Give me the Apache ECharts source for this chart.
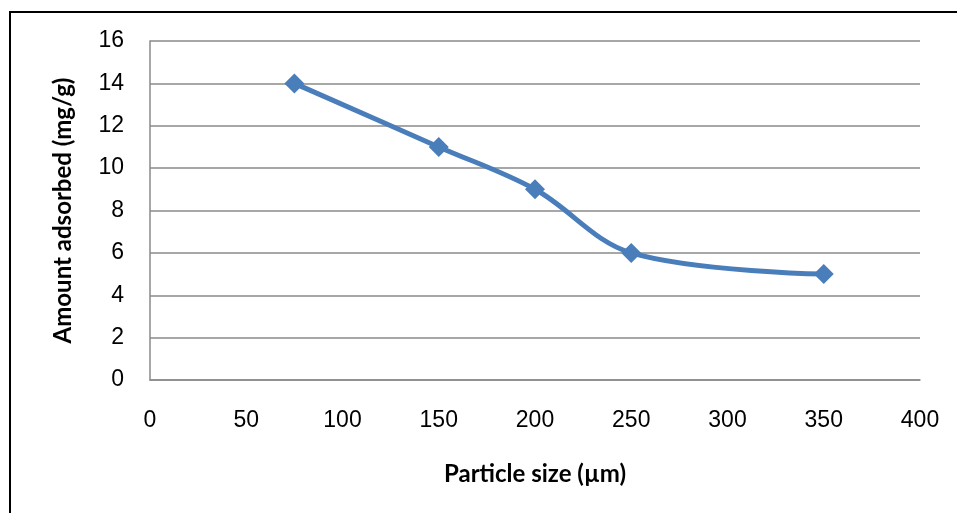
<!DOCTYPE html>
<html><head><meta charset="utf-8">
<script src="https://cdn.jsdelivr.net/npm/echarts@6/dist/echarts.min.js"></script>
<style>html,body{margin:0;padding:0;background:#fff}#c{width:957px;height:513px}</style>
</head><body><div id="c"></div>
<script>
const particleSize = [75, 150, 200, 250, 350];
const amountAdsorbed = [14, 11, 9, 6, 5];
const xTitle = 'Particle size (µm)';
const yTitle = 'Amount adsorbed (mg/g)';

const chart = echarts.init(document.getElementById('c'), null, {renderer: 'canvas'});
chart.setOption({
  backgroundColor: '#fff',
  animation: false,
  graphic: [{
    type: 'rect', shape: {x: 10, y: 12, width: 960, height: 520},
    style: {fill: 'none', stroke: '#000', lineWidth: 2}, silent: true, z: -1
  }],
  grid: {left: 150, right: 37, top: 41, bottom: 133},
  xAxis: {
    type: 'value', min: 0, max: 400, interval: 50,
    name: xTitle, nameLocation: 'middle', nameGap: 82,
    nameTextStyle: {fontFamily: 'Lato', fontWeight: 'bold', fontSize: 24, color: '#000'},
    axisLine: {show: true, lineStyle: {color: '#8a8a8a', width: 1.5}},
    axisTick: {show: false},
    splitLine: {show: false},
    axisLabel: {fontFamily: 'Liberation Sans', fontSize: 23, color: '#000', margin: 29}
  },
  yAxis: {
    type: 'value', min: 0, max: 16, interval: 2,
    name: yTitle, nameLocation: 'middle', nameGap: 75, nameRotate: 90,
    nameTextStyle: {fontFamily: 'Lato', fontWeight: 'bold', fontSize: 24, color: '#000'},
    axisLine: {show: true, lineStyle: {color: '#8a8a8a', width: 1.5}},
    axisTick: {show: false},
    splitLine: {show: true, lineStyle: {color: '#8a8a8a', width: 1.5}},
    axisLabel: {fontFamily: 'Liberation Sans', fontSize: 23, color: '#000', margin: 26}
  },
  series: [{
    type: 'line',
    data: particleSize.map((x, i) => [x, amountAdsorbed[i]]),
    smooth: 0.35,
    symbol: 'diamond', symbolSize: 20,
    lineStyle: {color: '#4a7ebb', width: 5},
    itemStyle: {color: '#4a7ebb'}
  }]
});
</script></body></html>
